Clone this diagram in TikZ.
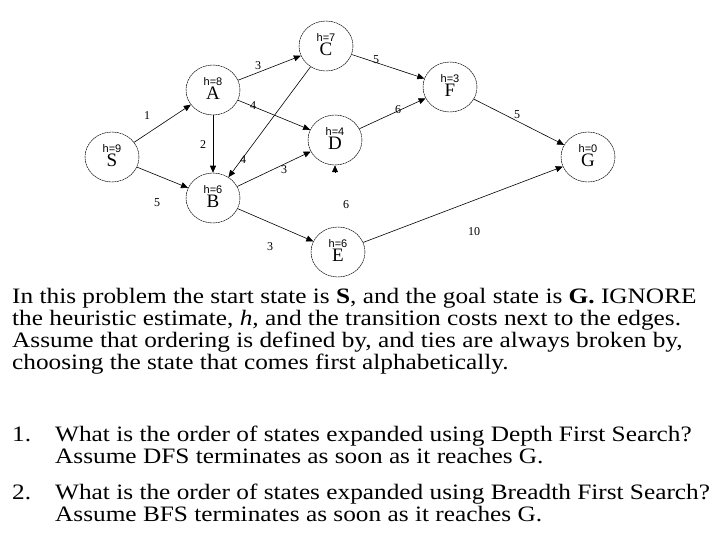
\documentclass[tikz,border=0pt]{standalone}
\usepackage{fontspec}
\setmainfont{Liberation Serif}
\newfontfamily\hfont{Liberation Sans}
\newfontfamily\bodyfont[FakeStretch=1.15]{Liberation Serif}
\usetikzlibrary{shapes.geometric,arrows.meta}
\begin{document}
\begin{tikzpicture}[x=1pt,y=-1pt,
  st/.style={draw,ellipse,minimum width=54pt,minimum height=50pt,inner sep=0pt,line width=0.5pt,dashed,dash pattern=on 2pt off 0.6pt,font=\fontsize{11}{12}\selectfont},
  ed/.style={-{Triangle[length=7pt,width=6pt]},line width=0.6pt},
  lb/.style={font=\fontsize{12}{12}\selectfont},
  para/.style={anchor=north west,inner sep=0pt,align=left,font=\bodyfont\fontsize{22}{22}\selectfont}]
\useasboundingbox (0,0) rectangle (720,540);
\newcommand{\stl}[2]{\begin{tabular}{@{}c@{}}{\hfont h=#1}\\[-2pt]{\fontsize{19}{19}\selectfont #2}\end{tabular}}
\node[st] (S) at (112,157) {\stl{9}{S}};
\node[st] (A) at (213,90) {\stl{8}{A}};
\node[st] (B) at (213,198) {\stl{6}{B}};
\node[st] (C) at (326,46) {\stl{7}{C}};
\node[st] (D) at (335,140) {\stl{4}{D}};
\node[st] (E) at (338,252) {\stl{6}{E}};
\node[st] (F) at (450,87) {\stl{3}{F}};
\node[st] (G) at (588,157) {\stl{0}{G}};
\draw[ed] (S) -- (A);
\draw[ed] (S) -- (B);
\draw[ed] (A) -- (C);
\draw[ed] (A) -- (B);
\draw[ed] (A) -- (D);
\draw[ed] (C) -- (B);
\draw[ed] (B) -- (D);
\draw[ed] (B) -- (E);
\draw[ed] (C) -- (F);
\draw[ed] (D) -- (F);
\draw[ed] (F) -- (G);
\draw[ed] (E) -- (G);
\coordinate (dstub) at (335,172);
\draw[ed] (dstub) -- (D.south);
\node[lb] (l1) at (147,116) {1};
\node[lb] (l2) at (157,203) {5};
\node[lb] (l3) at (258,66) {3};
\node[lb] (l4) at (203,145) {2};
\node[lb] (l5) at (253,106) {4};
\node[lb] (l6) at (243,160) {4};
\node[lb] (l7) at (284,170) {3};
\node[lb] (l8) at (270,247) {3};
\node[lb] (l9) at (376,60) {5};
\node[lb] (l10) at (398,110) {6};
\node[lb] (l11) at (517,115) {5};
\node[lb] (l12) at (474,232) {10};
\node[lb] (l13) at (346,205) {6};
\node[para] (txt) at (12,288) {In this problem the start state is \textbf{S}, and the goal state is \textbf{G.} IGNORE\\
the heuristic estimate, \textit{h,} and the transition costs next to the edges.\\
Assume that ordering is defined by, and ties are always broken by,\\
choosing the state that comes first alphabetically.};
\node[para] (n1) at (12,426) {\strut 1.};
\node[para] (q1) at (55,426) {\strut What is the order of states expanded using Depth First Search?\\
Assume DFS terminates as soon as it reaches G.};
\node[para] (n2) at (12,484) {\strut 2.};
\node[para] (q2) at (55,484) {\strut What is the order of states expanded using Breadth First Search?\\
Assume BFS terminates as soon as it reaches G.};
\end{tikzpicture}
\end{document}
